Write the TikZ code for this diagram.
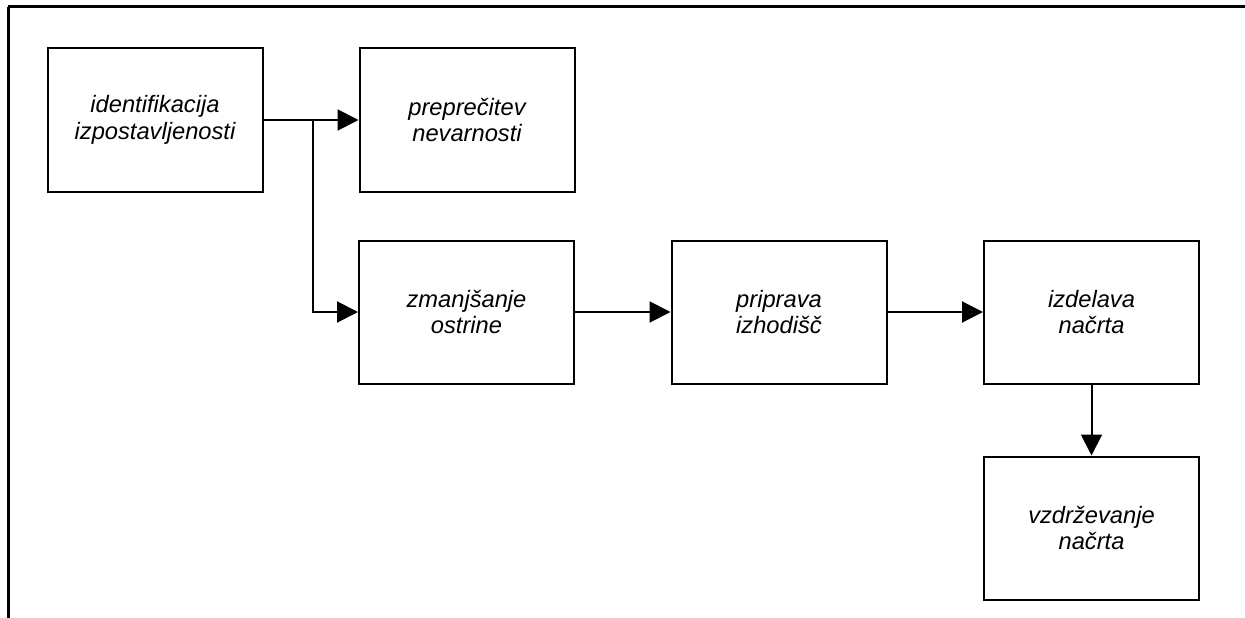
\documentclass[tikz,border=0pt]{standalone}
\usepackage{fontspec}
\setmainfont{Liberation Sans}
\usetikzlibrary{arrows.meta}
\begin{document}
\begin{tikzpicture}[x=1pt,y=-1pt,
  box/.style={draw, line width=2pt, minimum width=215pt, minimum height=143pt, inner sep=0pt, align=center,
    font=\fontsize{23.7}{26.5}\selectfont\itshape},
  conn/.style={line width=2pt, -{Triangle[length=21pt,width=21pt]}},
  frame/.style={line width=3pt}]
\useasboundingbox (0,0) rectangle (1245,618);
\draw[frame] (8,7) -- (1245,7);
\draw[frame] (8,7) -- (8,618);
\node[box] (b1) at (155,120) {identifikacija\\izpostavljenosti};
\node[box] (b2) at (467,120) {preprečitev\\nevarnosti};
\node[box] (b3) at (466.5,312) {zmanjšanje\\ostrine};
\node[box] (b4) at (779,312) {priprava\\izhodišč};
\node[box] (b5) at (1091.5,312) {izdelava\\načrta};
\node[box] (b6) at (1091.5,528) {vzdrževanje\\načrta};
\coordinate (j) at (313,120);
\draw[conn] (b1.east) -- (b2.west);
\draw[conn] (j) |- (b3.west);
\draw[conn] (b3.east) -- (b4.west);
\draw[conn] (b4.east) -- (b5.west);
\draw[conn] (b5.south) -- (b6.north);
\end{tikzpicture}
\end{document}
